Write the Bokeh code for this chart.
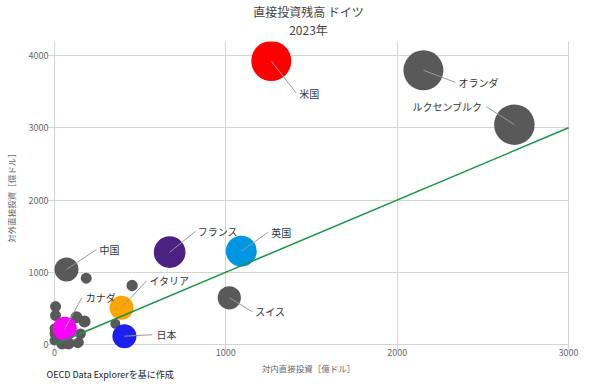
import math
from bokeh.plotting import figure
from bokeh.models import ColumnDataSource, Range1d, FixedTicker, Title
from bokeh.core.properties import value
from bokeh.embed import file_html
from bokeh.resources import INLINE

# ---------------- data ----------------
title_main = "直接投資残高 ドイツ"
title_year = "2023年"
x_label = "対内直接投資［億ドル］"
y_label = "対外直接投資［億ドル］"
source_note = "OECD Data Explorerを基に作成"
x_ticks = [0, 1000, 2000, 3000]
y_ticks = [0, 1000, 2000, 3000, 4000]

countries = ["米国", "オランダ", "ルクセンブルク", "フランス", "英国",
             "中国", "スイス", "イタリア", "日本", "カナダ"]
inward = [1265, 2153, 2684, 672, 1090, 70, 1020, 391, 408, 60]
outward = [3924, 3795, 3043, 1278, 1292, 1039, 647, 508, 115, 217]
weight = [400, 400, 410, 250, 240, 144, 135, 144, 144, 144]

other_inward = [185, 453, 355, 6, 6, 128, 175, 152, 142, 6, 0, 45, 82, 0, 30, 136]
other_outward = [918, 817, 286, 526, 402, 378, 318, 148, 32, 152, 55, 14, 14, 220, 100, 18]
other_weight = [30, 32, 25, 30, 30, 36, 36, 28, 25, 36, 25, 36, 36, 25, 36, 25]

diag_x = [0, 3000]
diag_y = [0, 3000]

# ---------------- style ----------------
FONT = "Noto Sans CJK JP"
country_colors = ["#ff0000", "#595959", "#595959", "#4b2182", "#0096e3",
                  "#595959", "#595959", "#ffa500", "#1e1ef0", "#ff00ff"]
label_dx = [28, 35, -32, 28, 30, 33, 26, 28, 32, 21]
label_dy = [32, 12, -18, -21, -19, -20, 14, -27, -1.5, -31]
label_align = ["left", "left", "right", "left", "left", "left", "left", "left", "left", "left"]
lead_dx = [25, 32, -28, 26, 27, 30, 23, 25, 28, 17]
lead_dy = [32, 12, -18, -21, -19, -20, 14, -27, -1.5, -31]

def diam(w):
    return 2 * math.sqrt(w)

src = ColumnDataSource(dict(
    x=inward, y=outward, name=countries, color=country_colors,
    size=[diam(w) for w in weight],
    xo=label_dx, yo=label_dy, align=label_align,
    ang=[math.degrees(math.atan2(-dy, dx)) for dx, dy in zip(lead_dx, lead_dy)],
    ln=[math.hypot(dx, dy) for dx, dy in zip(lead_dx, lead_dy)],
))
osrc = ColumnDataSource(dict(x=other_inward, y=other_outward,
                             size=[diam(w) for w in other_weight]))

p = figure(width=590, height=385,
           x_range=Range1d(-41, 3005.7), y_range=Range1d(-83, 4194),
           output_backend="svg", toolbar_location=None, title=None,
           min_border_left=47, min_border_right=21,
           min_border_top=41, min_border_bottom=35)
p.outline_line_color = None
p.background_fill_color = "white"
p.border_fill_color = "white"

for ax, ticks in ((p.xaxis, x_ticks), (p.yaxis, y_ticks)):
    ax.ticker = FixedTicker(ticks=ticks)
    ax.axis_line_color = None
    ax.major_tick_line_color = None
    ax.minor_tick_line_color = None
    ax.major_tick_out = 0
    ax.major_label_text_font = FONT
    ax.major_label_text_font_size = "9px"
    ax.major_label_text_color = "#666666"
    ax.axis_label_text_font = FONT
    ax.axis_label_text_font_size = "8.5px"
    ax.axis_label_text_color = "#666666"
    ax.axis_label_text_font_style = "normal"

p.xaxis.axis_label = x_label
p.yaxis.axis_label = y_label
p.xaxis.major_label_standoff = -2
p.yaxis.major_label_standoff = -1
p.xaxis.axis_label_standoff = 3
p.yaxis.axis_label_standoff = 9

p.xgrid.ticker = FixedTicker(ticks=x_ticks)
p.ygrid.ticker = FixedTicker(ticks=y_ticks)
p.grid.grid_line_color = "#d4d4d4"
p.grid.grid_line_width = 1

p.scatter("x", "y", size="size", source=osrc, fill_color="#595959",
          line_color=None)
p.scatter("x", "y", size="size", source=src, fill_color="color",
          line_color=None)
p.ray("x", "y", length="ln", angle="ang", source=src, length_units="screen",
      angle_units="deg", line_color="#9a9a9a", line_width=1)
p.line(diag_x, diag_y, line_color="#169443", line_width=1.5)
p.text("x", "y", text="name", source=src, x_offset="xo", y_offset="yo",
       text_align="align", text_baseline="middle", text_font=value(FONT),
       text_font_size="10px", text_color="#333333")

t2 = Title(text=title_year, align="center", text_font=FONT,
           text_font_size="12px", text_font_style="normal",
           text_color="#444444", standoff=8)
t1 = Title(text=title_main, align="center", text_font=FONT,
           text_font_size="12px", text_font_style="normal",
           text_color="#444444", standoff=-11)
p.add_layout(t2, "above")
p.add_layout(t1, "above")

note = Title(text=source_note, align="left", vertical_align="top",
             text_font=FONT, text_font_size="9px", text_font_style="normal",
             text_color="#222222", standoff=-18, offset=-1)
p.add_layout(note, "below")

open("out.html", "w").write(file_html(p, INLINE))
